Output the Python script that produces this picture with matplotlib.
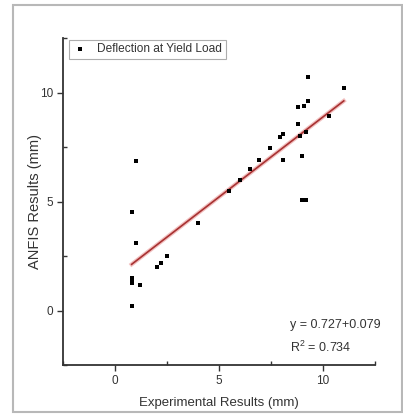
import matplotlib.pyplot as plt
from matplotlib.patches import Rectangle
from matplotlib.ticker import MultipleLocator

# experimental vs ANFIS deflection at yield load (mm)
EXP = [0.8, 1.0, 1.0, 0.8, 0.8, 0.8, 1.2, 0.8, 2.0, 2.2, 2.5, 4.0, 5.5,
       6.0, 6.5, 6.9, 7.45, 7.95, 8.1, 8.1, 8.8, 8.8, 8.9, 9.0, 9.0, 9.2,
       9.1, 9.2, 9.3, 9.3, 10.3, 11.0]
ANFIS = [4.5, 6.85, 3.1, 1.48, 1.38, 1.26, 1.18, 0.2, 2.0, 2.2, 2.5, 4.0,
         5.5, 6.0, 6.5, 6.9, 7.45, 7.95, 8.1, 6.9, 9.32, 8.54, 8.02, 7.1,
         5.05, 5.05, 9.37, 8.17, 9.6, 10.7, 8.94, 10.22]
FIT_SLOPE = 0.735
FIT_INTERCEPT = 1.53
FIT_X = [min(EXP), max(EXP)]
EQ_LINES = ['y = 0.727+0.079', 'R$^2$ = 0.734']

plt.rcParams['font.family'] = ['Liberation Sans', 'DejaVu Sans']
plt.rcParams['mathtext.fontset'] = 'custom'
plt.rcParams['mathtext.rm'] = 'Liberation Sans'

fig = plt.figure(figsize=(4.03, 4.15), dpi=100)
fig.patches.append(Rectangle((13 / 403, 3 / 415), 389 / 403, 407 / 415,
                             transform=fig.transFigure, fill=False,
                             edgecolor='#b8b8b8', linewidth=1.5))
ax = fig.add_axes([63 / 403, 1 - 365 / 415, 312 / 403, 327 / 415])

ax.scatter(EXP, ANFIS, marker='s', s=7, color='black', linewidths=0,
           label='Deflection at Yield Load', zorder=3)
fit_y = [FIT_SLOPE * x + FIT_INTERCEPT for x in FIT_X]
ax.plot(FIT_X, fit_y, color='#f2c0c0', linewidth=3.0, zorder=2)
ax.plot(FIT_X, fit_y, color='#a83232', linewidth=1.2, zorder=2)

ax.set_xlim(-2.5, 12.5)
ax.set_ylim(-2.5, 12.5)
ax.xaxis.set_major_locator(MultipleLocator(5))
ax.yaxis.set_major_locator(MultipleLocator(5))
ax.xaxis.set_minor_locator(MultipleLocator(2.5))
ax.yaxis.set_minor_locator(MultipleLocator(2.5))
ax.tick_params(which='major', direction='out', length=4, width=1,
               labelsize=8.5, colors='#333333', pad=3)
ax.tick_params(which='minor', direction='in', length=3, width=1,
               colors='#333333')
for side in ['top', 'right']:
    ax.spines[side].set_visible(False)
for side in ['left', 'bottom']:
    ax.spines[side].set_linewidth(1.3)
    ax.spines[side].set_color('#333333')

ax.set_xlabel('Experimental Results (mm)', fontsize=9.5, color='#333333')
ax.set_ylabel('ANFIS Results (mm)', fontsize=10.5, color='#333333')
ax.xaxis.set_label_coords(0.5, -0.097)
ax.yaxis.set_label_coords(-0.066, 0.5)

leg = ax.legend(loc='upper left', bbox_to_anchor=(0.012, 1.0),
                fontsize=8.6, frameon=True, fancybox=False,
                borderpad=0.3, handletextpad=0.7, handlelength=1.4,
                borderaxespad=0.15)
leg.get_frame().set_edgecolor('#999999')
leg.get_frame().set_linewidth(0.8)
for t in leg.get_texts():
    t.set_color('#333333')

ax.text(0.728, 0.122, EQ_LINES[0], transform=ax.transAxes, fontsize=9,
        color='#333333', va='center')
ax.text(0.728, 0.055, EQ_LINES[1], transform=ax.transAxes, fontsize=9,
        color='#333333', va='center')

fig.savefig('out.png', dpi=100)
